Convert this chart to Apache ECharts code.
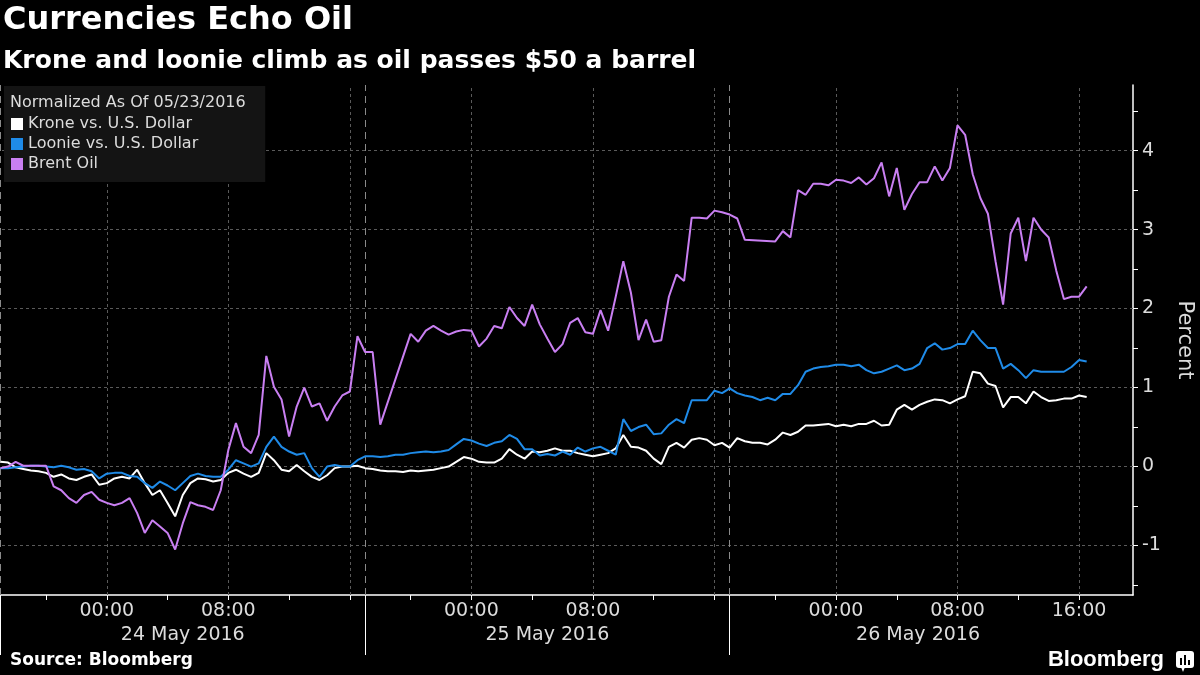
<!DOCTYPE html>
<html>
<head>
<meta charset="utf-8">
<script src="https://cdn.jsdelivr.net/npm/echarts@6/dist/echarts.min.js"></script>
<style>
html,body{margin:0;padding:0;background:#000;}
#chart{width:1200px;height:675px;}
</style>
</head>
<body>
<div id="chart"></div>
<script>
// Half-hourly readings, first one at 17:00 on 23 May 2016 (hours counted from 24 May 00:00)
const startHour = -7;
const stepHours = 0.5;

const krone = [
 0.06,0.05,-0.01,-0.03,-0.05,-0.06,-0.08,-0.13,-0.10,-0.15,
 -0.17,-0.13,-0.10,-0.23,-0.21,-0.15,-0.13,-0.15,-0.04,-0.21,
 -0.36,-0.30,-0.46,-0.63,-0.36,-0.21,-0.15,-0.16,-0.19,-0.17,
 -0.08,-0.04,-0.09,-0.13,-0.08,0.17,0.08,-0.04,-0.06,0.02,
 -0.06,-0.13,-0.17,-0.11,-0.02,0.00,0.00,0.01,-0.02,-0.03,
 -0.05,-0.06,-0.06,-0.07,-0.05,-0.06,-0.05,-0.04,-0.02,0.00,
 0.06,0.12,0.10,0.06,0.05,0.05,0.10,0.22,0.15,0.10,
 0.19,0.18,0.20,0.23,0.20,0.20,0.17,0.15,0.13,0.15,
 0.17,0.23,0.40,0.25,0.24,0.20,0.10,0.03,0.25,0.30,
 0.24,0.34,0.36,0.34,0.27,0.30,0.24,0.36,0.32,0.30,
 0.30,0.28,0.34,0.43,0.40,0.44,0.52,0.52,0.53,0.54,
 0.51,0.53,0.51,0.54,0.54,0.58,0.52,0.53,0.72,0.78,
 0.72,0.78,0.82,0.85,0.84,0.80,0.85,0.89,1.20,1.18,
 1.05,1.02,0.75,0.88,0.88,0.80,0.95,0.88,0.83,0.84,
 0.86,0.86,0.90,0.88
];

const loonie = [
 -0.02,-0.02,-0.01,0.00,0.01,0.01,0.00,-0.01,0.01,-0.01,
 -0.04,-0.03,-0.06,-0.15,-0.09,-0.08,-0.08,-0.12,-0.13,-0.21,
 -0.27,-0.19,-0.24,-0.30,-0.21,-0.12,-0.09,-0.12,-0.13,-0.13,
 -0.04,0.08,0.04,0.00,0.04,0.25,0.38,0.25,0.19,0.15,
 0.17,-0.02,-0.13,0.00,0.02,0.00,0.00,0.08,0.13,0.13,
 0.12,0.13,0.15,0.15,0.17,0.18,0.19,0.18,0.19,0.21,
 0.28,0.35,0.33,0.29,0.26,0.30,0.32,0.40,0.35,0.22,
 0.22,0.14,0.16,0.14,0.19,0.15,0.24,0.19,0.23,0.25,
 0.20,0.15,0.60,0.45,0.50,0.53,0.41,0.42,0.53,0.60,
 0.55,0.84,0.84,0.84,0.96,0.93,0.99,0.93,0.90,0.88,
 0.84,0.87,0.84,0.92,0.92,1.03,1.20,1.24,1.26,1.27,
 1.29,1.29,1.27,1.29,1.22,1.18,1.20,1.24,1.28,1.22,
 1.24,1.30,1.50,1.56,1.48,1.50,1.55,1.55,1.72,1.60,
 1.50,1.50,1.24,1.30,1.22,1.12,1.22,1.20,1.20,1.20,
 1.20,1.26,1.35,1.33
];

const brent = [
 -0.02,0.00,0.06,0.01,0.01,0.01,0.01,-0.25,-0.30,-0.40,
 -0.46,-0.36,-0.32,-0.42,-0.46,-0.49,-0.46,-0.40,-0.59,-0.84,
 -0.68,-0.76,-0.84,-1.05,-0.72,-0.45,-0.49,-0.51,-0.55,-0.30,
 0.21,0.55,0.25,0.17,0.40,1.40,1.01,0.85,0.38,0.76,
 1.00,0.76,0.80,0.58,0.76,0.90,0.95,1.65,1.45,1.45,
 0.53,null,null,null,1.68,1.58,1.72,1.78,1.72,1.67,
 1.71,1.73,1.72,1.52,1.62,1.78,1.75,2.02,1.88,1.78,
 2.05,1.80,1.62,1.45,1.55,1.82,1.88,1.70,1.68,1.98,
 1.72,2.15,2.60,2.20,1.60,1.86,1.58,1.60,2.15,2.43,
 2.35,3.15,3.15,3.14,3.24,3.22,3.19,3.14,2.87,null,
 null,null,2.85,2.98,2.90,3.50,3.44,3.58,3.58,3.56,
 3.63,3.62,3.59,3.66,3.57,3.65,3.85,3.42,3.78,3.25,
 3.45,3.60,3.60,3.80,3.62,3.78,4.32,4.20,3.70,3.40,
 3.20,2.60,2.05,2.95,3.15,2.60,3.15,3.00,2.90,2.48,
 2.12,2.15,2.15,2.28
];

const seriesNames = ['Krone vs. U.S. Dollar', 'Loonie vs. U.S. Dollar', 'Brent Oil'];
const seriesColors = ['#ffffff', '#1f8be8', '#c97ff2'];

const timeTickHours = [-4,0,4,8,12,16,20,24,28,32,36,40,44,48,52,56,60,64];
const timeLabelHours = [0,8,24,32,48,56,64];
const gridHours = [0,8,16,24,32,40,48,56,64];
const dayBoundaryHours = [-7,17,41];
const dateLabelHours = [5,29,53.4];
const dateLabels = ['24 May 2016','25 May 2016','26 May 2016'];

const yTickValues = [-1.5,-1,-0.5,0,0.5,1,1.5,2,2.5,3,3.5,4,4.5];
const yLabelValues = [-1,0,1,2,3,4];

const XMIN = -7.03, XMAX = 67.55;
const YMIN = -1.626, YMAX = 4.83;

function toPairs(vals){
  return vals.map((v,i)=>[startHour + i*stepHours, v]);
}
function hourLabel(h){
  const hh = ((Math.round(h)%24)+24)%24;
  return (hh<10?'0':'')+hh+':00';
}

const FONT = 'DejaVu Sans';
const chart = echarts.init(document.getElementById('chart'), null, {renderer:'canvas'});

const baseX = {type:'value', min:XMIN, max:XMAX, position:'bottom', gridIndex:0,
  splitLine:{show:false}, axisLine:{show:false, onZero:false}, axisTick:{show:false}, axisLabel:{show:false}};

const option = {
  backgroundColor:'#000',
  animation:false,
  textStyle:{fontFamily:FONT},
  grid:{left:0, right:67, top:85, bottom:80, containLabel:false, outerBoundsMode:'none'},
  title:[
    {text:'Currencies Echo Oil', left:3, top:5, padding:0,
     textStyle:{color:'#fff', fontSize:32, fontWeight:'bold', fontFamily:FONT}},
    {text:'Krone and loonie climb as oil passes $50 a barrel', left:3, top:49, padding:0,
     textStyle:{color:'#fff', fontSize:25, fontWeight:'bold', fontFamily:FONT}},
    {text:'Normalized As Of 05/23/2016', left:10, top:95, padding:0, z:10,
     textStyle:{color:'#dcdcdc', fontSize:16, fontWeight:'normal', fontFamily:FONT}},
    {text:'Source: Bloomberg', left:10, top:652, padding:0,
     textStyle:{color:'#fff', fontSize:17, fontWeight:'bold', fontFamily:FONT}}
  ],
  legend:{
    data:seriesNames, orient:'vertical', left:4, top:86, z:2,
    backgroundColor:'#141414', padding:[28,67,8,7],
    icon:'rect', itemWidth:12, itemHeight:12, itemGap:0,
    textStyle:{color:'#dcdcdc', fontSize:16, lineHeight:20, fontFamily:FONT}
  },
  xAxis:[
    Object.assign({}, baseX, {
      axisLine:{show:true, onZero:false, lineStyle:{color:'#fff', width:1.5}},
      axisTick:{show:true, customValues:timeTickHours, length:5, lineStyle:{color:'#fff'}},
      axisLabel:{show:true, customValues:timeLabelHours, formatter:hourLabel, color:'#dcdcdc',
        fontSize:19, margin:7, fontFamily:FONT}
    }),
    Object.assign({}, baseX, {
      axisLabel:{show:true, customValues:dateLabelHours, color:'#dcdcdc', fontSize:19, margin:31,
        fontFamily:FONT, formatter:function(v){ const i = dateLabelHours.indexOf(v); return i>=0?dateLabels[i]:''; }}
    }),
    Object.assign({}, baseX, {
      axisTick:{show:true, customValues:gridHours, inside:true, length:510,
        lineStyle:{color:'#5a5a5a', type:[3,3], width:1}}
    }),
    Object.assign({}, baseX, {
      axisTick:{show:true, customValues:dayBoundaryHours, inside:true, length:510,
        lineStyle:{color:'#8a8a8a', type:[7,5], width:1}}
    }),
    Object.assign({}, baseX, {
      axisTick:{show:true, customValues:dayBoundaryHours, inside:false, length:60,
        lineStyle:{color:'#fff', width:1}}
    })
  ],
  yAxis:[
    {type:'value', min:YMIN, max:YMAX, position:'right',
     splitLine:{show:false},
     axisLine:{show:true, onZero:false, lineStyle:{color:'#fff', width:1.5}},
     axisTick:{show:true, customValues:yTickValues, length:5, lineStyle:{color:'#fff'}},
     axisLabel:{show:true, customValues:yLabelValues, color:'#dcdcdc', fontSize:19, margin:9, fontFamily:FONT,
       formatter:function(v){return String(Math.round(v));}},
     name:'Percent', nameLocation:'middle', nameRotate:-90, nameGap:41,
     nameTextStyle:{color:'#dcdcdc', fontSize:21, fontFamily:FONT}},
    {type:'value', min:YMIN, max:YMAX, position:'right',
     splitLine:{show:false}, axisLine:{show:false, onZero:false}, axisLabel:{show:false},
     axisTick:{show:true, customValues:yLabelValues, inside:true, length:1133,
       lineStyle:{color:'#5a5a5a', type:[3,3], width:1}}}
  ],
  series:[
    {name:seriesNames[0], type:'line', data:toPairs(krone), showSymbol:false, symbol:'none',
     lineStyle:{color:seriesColors[0], width:2}, itemStyle:{color:seriesColors[0]}, z:3},
    {name:seriesNames[1], type:'line', data:toPairs(loonie), showSymbol:false, symbol:'none',
     lineStyle:{color:seriesColors[1], width:2}, itemStyle:{color:seriesColors[1]}, z:4},
    {name:seriesNames[2], type:'line', data:toPairs(brent), showSymbol:false, symbol:'none', connectNulls:true,
     lineStyle:{color:seriesColors[2], width:2}, itemStyle:{color:seriesColors[2]}, z:5}
  ],
  graphic:[
    {type:'text', right:36, top:649, style:{text:'Bloomberg', fill:'#fff',
      font:'bold 22px "Liberation Sans", Arial, sans-serif'}},
    {type:'group', right:6, top:651, children:[
      {type:'rect', shape:{x:0,y:0,width:18,height:17,r:3}, style:{fill:'#fff'}},
      {type:'polygon', shape:{points:[[5,16],[9,16],[7,21]]}, style:{fill:'#fff'}},
      {type:'rect', shape:{x:4,y:7,width:2,height:7}, style:{fill:'#000'}},
      {type:'rect', shape:{x:8,y:4,width:2,height:10}, style:{fill:'#000'}},
      {type:'rect', shape:{x:12,y:9,width:2,height:5}, style:{fill:'#000'}}
    ]}
  ]
};
chart.setOption(option);
</script>
</body>
</html>
